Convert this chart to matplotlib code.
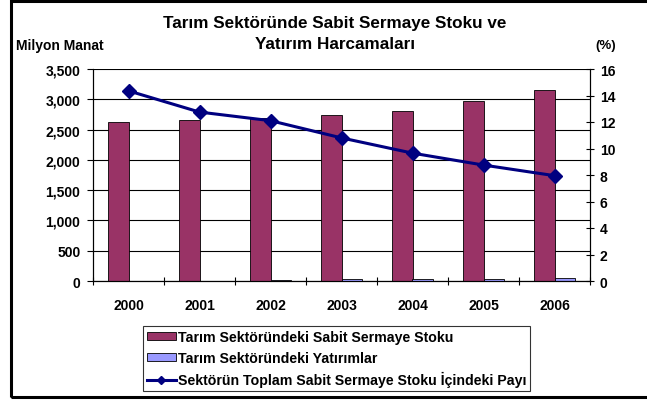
import numpy as np
import matplotlib
matplotlib.use("Agg")
import matplotlib.pyplot as plt
from matplotlib.patches import Rectangle

plt.rcParams['font.family'] = ['Liberation Sans', 'DejaVu Sans']
plt.rcParams['font.weight'] = 'bold'

years = ['2000', '2001', '2002', '2003', '2004', '2005', '2006']
sabit_stok = [2620, 2665, 2685, 2735, 2800, 2975, 3150]   # milyon manat
yatirim = [0, 0, 12, 28, 28, 30, 55]                       # milyon manat
pay = [14.35, 12.75, 12.1, 10.8, 9.65, 8.75, 7.95]         # %

W, H = 647, 402
fig = plt.figure(figsize=(W / 100, H / 100), dpi=100)
ax = fig.add_axes([93 / W, 1 - 282 / H, (590 - 93) / W, (282 - 70) / H])
ax2 = ax.twinx()

x = np.arange(len(years))
bw = 0.29
ax.set_axisbelow(True)
ax.bar(x - bw / 2, sabit_stok, bw, color='#993366', edgecolor='black', lw=0.6,
       label='Tarım Sektöründeki Sabit Sermaye Stoku')
ax.bar(x + bw / 2, yatirim, bw, color='#9999ff', edgecolor='black', lw=0.6,
       label='Tarım Sektöründeki Yatırımlar')
ax2.plot(x, pay, color='#000080', lw=2.2, marker='D', ms=7,
         label='Sektörün Toplam Sabit Sermaye Stoku İçindeki Payı')

ax.set_xlim(-0.5, len(years) - 0.5)
ax.set_ylim(0, 3500)
ax.set_yticks(np.arange(0, 3501, 500))
ax.set_yticklabels([f'{v:,}' for v in range(0, 3501, 500)])
ax.yaxis.grid(True, color='black', lw=0.8)
ax.set_xticks(x)
ax.set_xticklabels(years)
ax.set_xticks(np.arange(-0.5, len(years), 1), minor=True)
ax.tick_params(axis='x', which='major', length=0, pad=12, labelsize=10)
ax.tick_params(axis='x', which='minor', length=6, direction='inout', width=0.8)
ax.tick_params(axis='y', direction='out', length=4, width=0.8, labelsize=10, pad=5)

ax2.set_ylim(0, 16)
ax2.set_yticks(np.arange(0, 17, 2))
ax2.tick_params(axis='y', direction='inout', length=6, width=0.8, labelsize=10, pad=4)

for a in (ax, ax2):
    a.spines['top'].set_visible(False)
    for s in ('left', 'right', 'bottom'):
        a.spines[s].set_linewidth(0.8)

fig.text(335 / W, 1 - 34 / H, 'Tarım Sektöründe Sabit Sermaye Stoku ve\nYatırım Harcamaları',
         ha='center', va='center', fontsize=12.3, fontweight='bold', linespacing=1.45)
fig.text(16 / W, 1 - 46 / H, 'Milyon Manat', ha='left', va='center', fontsize=10, fontweight='bold')
fig.text(606 / W, 1 - 46 / H, '(%)', ha='center', va='center', fontsize=9.5, fontweight='bold')

h1, l1 = ax.get_legend_handles_labels()
h2, l2 = ax2.get_legend_handles_labels()
leg = fig.legend(h1 + h2, l1 + l2, loc='upper left', bbox_to_anchor=(143 / W, 1 - 327 / H),
                 fontsize=10.2, frameon=True, fancybox=False, edgecolor='black',
                 borderaxespad=0, handlelength=2.0, handleheight=0.5, handletextpad=0.15,
                 labelspacing=0.45, borderpad=0.3, markerscale=0.6)
leg.get_frame().set_linewidth(0.8)

fig.patches.append(Rectangle((11 / W, 1 - 398 / H), 700 / W, (398 - 2) / H,
                             transform=fig.transFigure, fill=False, edgecolor='black', lw=2.2))

fig.savefig('out.png', dpi=100)
